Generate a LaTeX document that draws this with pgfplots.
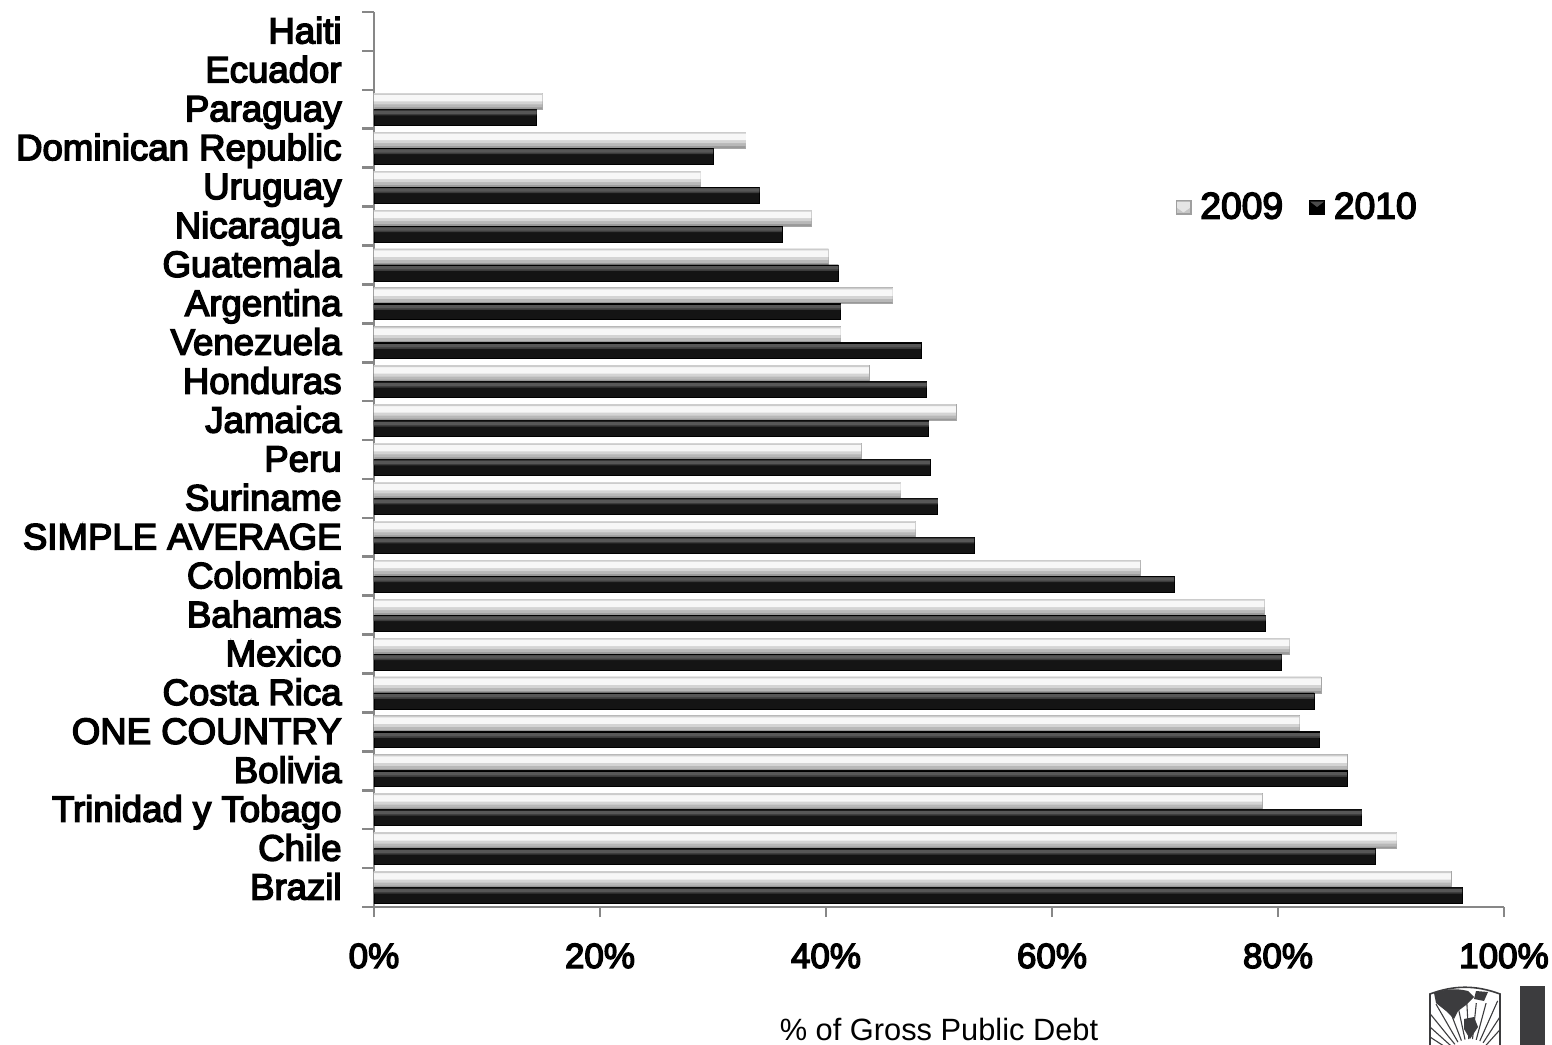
\documentclass[border=0pt]{standalone}
\usepackage{fontspec}
\setmainfont{Liberation Sans}
\newfontfamily\heavyfont[FakeBold=4]{Liberation Sans}
\usepackage{pgfplots}
\usepackage{pgfplotstable}
\pgfplotsset{compat=1.18}

% share of gross public debt, by country (index 0 = bottom row)
\pgfplotstableread{
idx v09  v10
0   95.3 96.3
1   90.5 88.6
2   78.6 87.4
3   86.1 86.1
4   81.9 83.7
5   83.8 83.2
6   81.0 80.3
7   78.8 78.9
8   67.8 70.8
9   47.9 53.1
10  46.6 49.9
11  43.1 49.2
12  51.5 49.1
13  43.8 48.9
14  41.3 48.4
15  45.9 41.3
16  40.2 41.1
17  38.7 36.1
18  28.9 34.1
19  32.9 30.0
20  14.9 14.4
}\debttable

\definecolor{axisgray}{RGB}{135,135,135}
\definecolor{logogray}{RGB}{60,60,62}

% bevel bands of a bar, stacked as narrower flat bars
\pgfplotsset{
  band/.style n args={3}{forget plot, draw=none, fill=#1, bar width=#2, bar shift=#3},
}

\begin{document}
\begin{tikzpicture}
\path[use as bounding box] (-187pt,-68.5pt) rectangle (589pt,453.5pt);
\begin{axis}[
  at={(0,0)}, anchor=south west,
  scale only axis, width=565pt, height=447.5pt,
  xbar, bar width=8pt,
  xmin=0, xmax=100, ymin=-0.5, ymax=22.5,
  axis x line*=bottom, axis y line*=left,
  axis line style={draw=axisgray, line width=1.3pt, -},
  tick align=outside,
  xtick={0,20,40,60,80,100},
  xticklabels={0\%,20\%,40\%,60\%,80\%,100\%},
  major tick length=5pt, minor tick length=6pt,
  major x tick style={draw=axisgray, line width=1.3pt},
  ytick={0,...,22},
  yticklabels={Brazil,Chile,Trinidad y Tobago,Bolivia,ONE COUNTRY,Costa Rica,Mexico,Bahamas,Colombia,SIMPLE AVERAGE,Suriname,Peru,Jamaica,Honduras,Venezuela,Argentina,Guatemala,Nicaragua,Uruguay,Dominican Republic,Paraguay,Ecuador,Haiti},
  major y tick style={draw=none},
  minor ytick={-0.5,0.5,...,22.5},
  minor y tick style={draw=axisgray, line width=1.3pt},
  yticklabel style={font=\heavyfont\fontsize{18.3}{20}\selectfont, anchor=base east, inner sep=0pt, xshift=-11pt, yshift=-6pt},
  xticklabel style={font=\heavyfont\fontsize{17.5}{20}\selectfont, anchor=base, inner sep=0pt, yshift=-25.5pt},
  xlabel={\% of Gross Public Debt},
  xlabel style={font=\fontsize{15.4}{18}\selectfont, at={(axis description cs:0.5,0)}, anchor=base, inner sep=0pt, yshift=-66.5pt},
  legend columns=2,
  legend style={draw=none, fill=none, at={(rel axis cs:0.709,0.782)}, anchor=west,
    font=\heavyfont\fontsize{18.6}{20}\selectfont, inner sep=0pt,
    /tikz/every even column/.append style={column sep=11pt}},
  clip=false,
]
% 2009: light bevelled bar above the row centre
\addplot[draw=gray!70, line width=0.4pt, fill={rgb,1:red,0.6;green,0.6;blue,0.6}, bar shift=4pt,
  legend image code/.code={%
    \fill[gray!75] (0pt,-3.5pt) rectangle (7.5pt,3.5pt);
    \fill[gray!45] (0.8pt,-2.4pt) rectangle (6.7pt,2.6pt);
    \fill[gray!20] (0.8pt,-0.3pt) -- (3.75pt,-2.4pt) -- (6.7pt,-0.3pt) -- (6.7pt,2.6pt) -- (0.8pt,2.6pt) -- cycle;
    \path (10pt,0pt);}]
  table[x=v09, y=idx] {\debttable};
\addlegendentry{2009}
\addplot[band={black!28}{7pt}{4.5pt}] table[x=v09, y=idx] {\debttable};
\addplot[band={black!17}{5.5pt}{5.25pt}] table[x=v09, y=idx] {\debttable};
\addplot[band={black!3}{4pt}{6pt}] table[x=v09, y=idx] {\debttable};
\addplot[band={black!20}{0.75pt}{7.625pt}] table[x=v09, y=idx] {\debttable};
% 2010: dark bevelled bar below the row centre
\addplot[draw=black, line width=0.4pt, fill=black!92, bar shift=-4pt,
  legend image code/.code={%
    \fill[black] (0pt,-3.5pt) rectangle (7.5pt,3.5pt);
    \fill[black!70] (0.8pt,2.6pt) -- (6.7pt,2.6pt) -- (3.75pt,0.3pt) -- cycle;
    \path (10pt,0pt);}]
  table[x=v10, y=idx] {\debttable};
\addlegendentry{2010}
\addplot[band={black!77}{3pt}{-1.5pt}] table[x=v10, y=idx] {\debttable};
\addplot[band={black!66}{2pt}{-1.25pt}] table[x=v10, y=idx] {\debttable};
\addplot[band={black}{0.5pt}{-0.25pt}] table[x=v10, y=idx] {\debttable};
\end{axis}
% institutional emblem, lower right corner
\begin{scope}[x=1pt, y=1pt]
\begin{scope}
\clip (528,-70) -- (528,-43.5) .. controls (540,-39) and (551,-39) .. (563,-43.5) -- (563,-70) -- cycle;
\foreach \a in {48,57,...,147} {\draw[logogray, line width=0.55pt] (548,-78)++(\a:12pt) -- ++(\a:22pt);}
\fill[white] (530,-41) rectangle (561,-48);
\fill[logogray] (530,-43) .. controls (535,-41) and (541,-40.5) .. (547,-42) -- (550,-45) -- (546,-49) -- (542,-52) -- (540,-56) -- (536,-52) -- (531,-48) -- cycle;
\fill[logogray] (551,-42) -- (557,-42.5) -- (555,-47) -- (550,-46) -- cycle;
\fill[logogray] (545,-56) -- (550,-55) -- (552,-60) -- (548,-66) -- (545,-61) -- cycle;
\end{scope}
\draw[logogray, line width=0.8pt] (528,-70) -- (528,-43.5) .. controls (540,-39) and (551,-39) .. (563,-43.5) -- (563,-70);
\fill[logogray] (573,-39.5) rectangle (585.5,-70);
\end{scope}
\end{tikzpicture}
\end{document}
